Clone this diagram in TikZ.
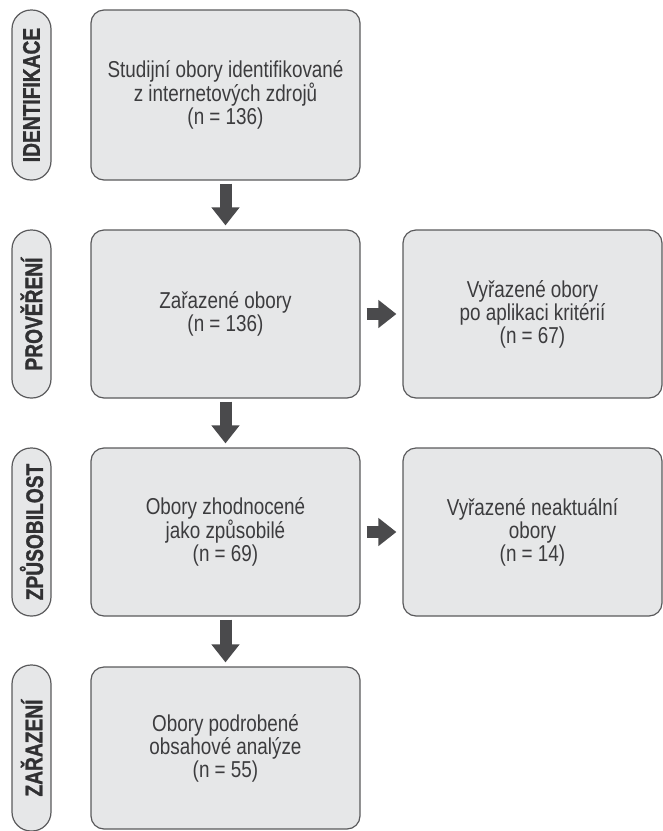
\documentclass[tikz,border=0pt]{standalone}
\usepackage{fontspec}
\setmainfont{Liberation Sans}[FakeStretch=0.82,
  BoldFont={Liberation Sans Bold},BoldFeatures={FakeStretch=0.8,FakeBold=1.2}]
\usetikzlibrary{arrows.meta}
\definecolor{boxgray}{HTML}{E6E7E8}
\definecolor{linegray}{HTML}{5A5A5C}
\definecolor{arrowgray}{HTML}{4A4A4C}
\definecolor{textgray}{HTML}{3C3C3E}

\begin{document}
\begin{tikzpicture}[x=1pt,y=-1pt,line join=round,
    box/.style={draw=linegray,line width=1.2pt,fill=boxgray,rounded corners=13pt,
      align=center,text=textgray,inner sep=0pt,
      font=\fontsize{23}{23}\selectfont},
    phase/.style={draw=linegray,line width=1.2pt,fill=boxgray,rounded corners=19pt,
      rotate=90,minimum height=39pt,inner sep=0pt,text=textgray!80!black,
      font=\fontsize{24}{24}\selectfont\bfseries},
    flow/.style={arrowgray,line width=12pt,-{Triangle[width=27pt,length=18pt]}}]
      \useasboundingbox (0,0) rectangle (663,831);

      % Phase labels
      \node[phase,minimum width=170pt] (pident) at (31.5,95) {IDENTIFIKACE};
      \node[phase,minimum width=168pt] (pprov) at (31.5,314) {PROVĚŘENÍ};
      \node[phase,minimum width=168pt] (pzpus) at (31.5,532) {ZPŮSOBILOST};
      \node[phase,minimum width=166pt] (pzar) at (31.5,748) {ZAŘAZENÍ};

      % Main boxes
      \node[box,minimum width=269pt,minimum height=170pt] (ident) at (225.5,95)
        {Studijní obory identifikované\\z internetových zdrojů\\(n = 136)};
      \node[box,minimum width=269pt,minimum height=168pt] (prov) at (225.5,314)
        {Zařazené obory\\(n = 136)};
      \node[box,minimum width=269pt,minimum height=168pt] (zpus) at (225.5,532)
        {Obory zhodnocené\\jako způsobilé\\(n = 69)};
      \node[box,minimum width=269pt,minimum height=162pt] (zar) at (225.5,748)
        {Obory podrobené\\obsahové analýze\\(n = 55)};

      % Excluded boxes
      \node[box,minimum width=259pt,minimum height=168pt] (provout) at (532.5,314)
        {Vyřazené obory\\po aplikaci kritérií\\(n = 67)};
      \node[box,minimum width=259pt,minimum height=168pt] (zpusout) at (532.5,532)
        {Vyřazené neaktuální\\obory\\(n = 14)};

      % Add Arrows
      \draw[flow,shorten <=3pt,shorten >=4pt] (ident) -- (prov);
      \draw[flow,shorten <=3pt,shorten >=4pt] (prov) -- (zpus);
      \draw[flow,shorten <=3pt,shorten >=4pt] (zpus) -- (zar);
      \draw[flow,shorten <=6pt,shorten >=6pt] (prov) -- (provout);
      \draw[flow,shorten <=6pt,shorten >=6pt] (zpus) -- (zpusout);
\end{tikzpicture}
\end{document}
